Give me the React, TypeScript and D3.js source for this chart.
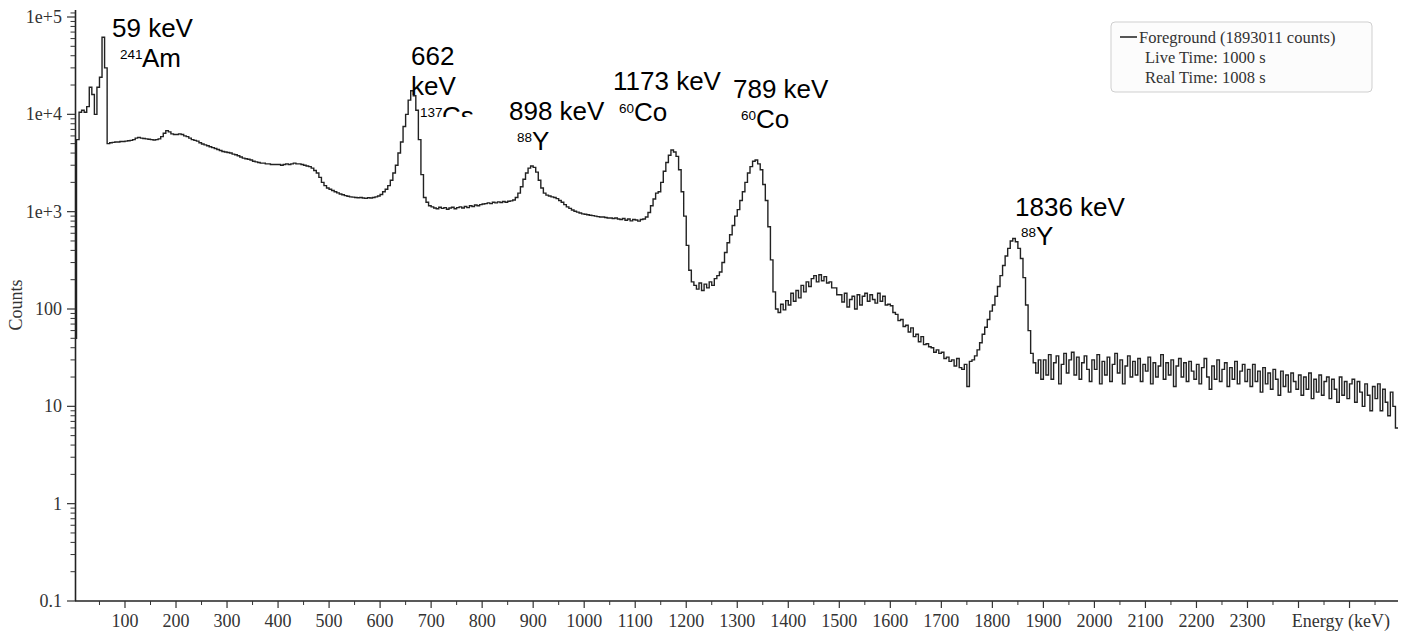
import React from 'react';
import * as d3 from 'd3';

// Spectrum: counts per 5 keV bin, bin i starts at i*5 keV
const binWidthKeV = 5;
const counts: number[] = [
  // 0-100
  50, 5500, 10500, 11000, 10500, 12000, 19000, 16000, 10000, 19000, 24000, 62000, 30000, 5000, 5100, 5150, 5200, 5200, 5250, 5250,
  // 100-200
  5300, 5350, 5400, 5500, 5700, 5800, 5700, 5650, 5600, 5550, 5500, 5450, 5500, 5600, 5900, 6400, 6800, 6600, 6300, 6200,
  // 200-300
  6200, 6300, 6200, 6000, 5900, 5700, 5500, 5400, 5300, 5100, 4950, 4850, 4750, 4650, 4550, 4450, 4350, 4250, 4150, 4100,
  // 300-400
  4050, 4000, 3900, 3850, 3750, 3650, 3550, 3500, 3450, 3400, 3300, 3250, 3200, 3150, 3150, 3100, 3100, 3050, 3050, 3050,
  // 400-500
  3050, 3000, 3050, 3100, 3050, 3100, 3150, 3100, 3100, 3050, 3000, 2950, 2900, 2800, 2650, 2500, 2250, 2000, 1850, 1750,
  // 500-600
  1700, 1650, 1600, 1560, 1520, 1490, 1460, 1440, 1420, 1410, 1400, 1390, 1400, 1380, 1370, 1390, 1380, 1400, 1420, 1450,
  // 600-700
  1500, 1600, 1700, 1850, 2100, 2500, 3000, 4000, 5200, 7500, 10000, 14000, 17500, 15500, 11000, 5500, 2400, 1400, 1250, 1150,
  // 700-800
  1120, 1090, 1070, 1110, 1080, 1100, 1060, 1090, 1110, 1070, 1100, 1120, 1090, 1130, 1100, 1150, 1130, 1170, 1150, 1180,
  // 800-900
  1200, 1210, 1230, 1210, 1250, 1230, 1260, 1240, 1270, 1250, 1280, 1290, 1320, 1400, 1550, 1800, 2150, 2500, 2800, 2950,
  // 900-1000
  2850, 2550, 2100, 1750, 1550, 1480, 1450, 1420, 1400, 1360, 1300, 1250, 1180, 1120, 1080, 1040, 1010, 990, 970, 950,
  // 1000-1100
  940, 930, 920, 910, 900, 890, 880, 880, 870, 860, 860, 850, 860, 840, 830, 850, 815, 840, 805, 830,
  // 1100-1200
  820, 800, 830, 840, 880, 980, 1150, 1350, 1550, 1600, 2000, 2600, 3200, 3800, 4300, 4100, 3700, 2700, 1600, 900,
  // 1200-1300
  450, 250, 190, 175, 160, 185, 155, 180, 165, 190, 175, 205, 220, 240, 300, 380, 480, 580, 720, 900,
  // 1300-1400
  1050, 1300, 1600, 2000, 2500, 2900, 3300, 3400, 3100, 2700, 1900, 1300, 700, 320, 150, 100, 92, 112, 98, 122,
  // 1400-1500
  110, 145, 120, 155, 130, 175, 150, 190, 170, 205, 220, 190, 225, 195, 215, 185, 190, 165, 165, 140,
  // 1500-1600
  140, 118, 145, 105, 125, 135, 100, 140, 110, 135, 145, 120, 140, 125, 115, 145, 120, 135, 110, 112,
  // 1600-1700
  108, 92, 88, 76, 78, 66, 68, 58, 64, 52, 55, 46, 52, 43, 44, 41, 40, 36, 38, 35,
  // 1700-1800
  36, 31, 32, 29, 30, 26, 31, 25, 24, 27, 16, 29, 30, 33, 38, 45, 55, 65, 78, 95,
  // 1800-1900
  110, 135, 170, 220, 280, 350, 420, 500, 530, 490, 420, 330, 210, 110, 60, 35, 28, 22, 30, 19,
  // 1900-2000
  30, 21, 34, 19, 28, 33, 17, 27, 35, 22, 30, 36, 21, 32, 19, 28, 33, 24, 18, 30,
  // 2000-2100
  24, 34, 17, 29, 21, 32, 18, 27, 35, 22, 30, 17, 26, 33, 20, 29, 21, 31, 18, 27,
  // 2100-2200
  23, 32, 17, 28, 20, 26, 34, 19, 28, 21, 30, 16, 26, 31, 20, 28, 18, 29, 23, 19,
  // 2200-2300
  27, 17, 25, 31, 20, 15, 26, 19, 30, 18, 24, 28, 16, 25, 19, 29, 17, 23, 27, 18,
  // 2300-2400
  24, 16, 27, 18, 23, 14, 25, 17, 22, 15, 24, 19, 13, 23, 16, 21, 14, 22, 18, 15,
  // 2400-2500
  21, 13, 20, 15, 22, 12, 19, 14, 21, 13, 18, 20, 12, 19, 15, 11, 20, 13, 18, 12,
  // 2500-2595
  17, 19, 11, 18, 14, 10, 17, 13, 9, 16, 12, 17, 9, 15, 11, 8, 14, 10, 6,
];

const yTickValues = [1e5, 1e4, 1e3, 100, 10, 1, 0.1];
const yTickLabels = ['1e+5', '1e+4', '1e+3', '100', '10', '1', '0.1'];
const xMajorTicks = d3.range(100, 2600, 100);
const xMinorTicks = d3.range(50, 2600, 100);
const xLabelMax = 2300;

const peakLines1 = ['59 keV', '662', '898 keV', '1173 keV', '789 keV', '1836 keV'];
const peakIsotopeMass = ['241', '137', '88', '60', '60', '88'];
const peakIsotopeSymbol = ['Am', 'Cs', 'Y', 'Co', 'Co', 'Y'];

const legendTitle = 'Foreground (1893011 counts)';
const legendLines = ['Live Time: 1000 s', 'Real Time: 1008 s'];

const W = 1414;
const H = 633;

export default function App() {
  const x = d3.scaleLinear().domain([3, 2595]).range([75.5, 1398]);
  const y = d3.scaleLog().domain([0.1, 118000]).range([601, 10]);

  const pts: [number, number][] = counts.map((c, i) => [i * binWidthKeV, c]);
  pts.push([counts.length * binWidthKeV, counts[counts.length - 1]]);
  const line = d3
    .line<[number, number]>()
    .x((d) => x(d[0]))
    .y((d) => y(Math.max(d[1], 0.05)))
    .curve(d3.curveStepAfter);

  const minorY: number[] = [];
  for (let e = -1; e <= 4; e++) {
    for (let m = 2; m <= 9; m++) minorY.push(m * Math.pow(10, e));
  }
  minorY.push(1.1e5);

  const serif = '"Liberation Serif", "Times New Roman", serif';
  const sans = '"Liberation Sans", Arial, sans-serif';
  const tickColor = '#333';

  // annotation layout (first line pos, second line pos)
  const ann = [
    { x: 112, y: 37, x2: 120, y2: 67 },
    { x: 411, y: 65, x2: 420, y2: 125 },
    { x: 509, y: 120, x2: 517, y2: 150 },
    { x: 613, y: 90, x2: 619, y2: 121 },
    { x: 733, y: 98, x2: 741, y2: 128 },
    { x: 1015, y: 216, x2: 1021, y2: 245 },
  ];

  return (
    <svg
      width={W}
      height={H}
      style={{ position: 'absolute', left: 0, top: 0, background: '#fff' }}
    >
      <defs>
        <clipPath id="plotClip">
          <rect x={76} y={0} width={1330} height={601} />
        </clipPath>
        <clipPath id="csClip">
          <rect x={380} y={30} width={120} height={87} />
        </clipPath>
      </defs>

      {/* spectrum */}
      <path
        d={line(pts) || ''}
        fill="none"
        stroke="#222"
        strokeWidth={1.4}
        clipPath="url(#plotClip)"
      />

      {/* y axis */}
      <line x1={75.5} x2={75.5} y1={10} y2={601} stroke="#222" strokeWidth={1.6} />
      {minorY.filter((v) => v <= 118000).map((v, i) => (
        <line key={'my' + i} x1={70.5} x2={75.5} y1={y(v)} y2={y(v)} stroke={tickColor} strokeWidth={1} />
      ))}
      {yTickValues.map((v, i) => (
        <g key={'yt' + i}>
          <line x1={67} x2={75.5} y1={y(v)} y2={y(v)} stroke={tickColor} strokeWidth={1.2} />
          <text
            x={62}
            y={y(v)}
            dy="0.33em"
            textAnchor="end"
            fontFamily={serif}
            fontSize={18}
            fill="#333"
          >
            {yTickLabels[i]}
          </text>
        </g>
      ))}
      <text
        transform={`translate(22,${305}) rotate(-90)`}
        textAnchor="middle"
        fontFamily={serif}
        fontSize={18}
        fill="#333"
      >
        Counts
      </text>

      {/* x axis */}
      <line x1={75} x2={1398} y1={601} y2={601} stroke="#222" strokeWidth={1.4} />
      {xMinorTicks.map((v) => (
        <line key={'mx' + v} x1={x(v)} x2={x(v)} y1={601} y2={605} stroke={tickColor} strokeWidth={1} />
      ))}
      {xMajorTicks.map((v) => (
        <g key={'xt' + v}>
          <line x1={x(v)} x2={x(v)} y1={601} y2={608} stroke={tickColor} strokeWidth={1.2} />
          {v <= xLabelMax && (
            <text x={x(v)} y={627} textAnchor="middle" fontFamily={serif} fontSize={18} fill="#333">
              {v}
            </text>
          )}
        </g>
      ))}
      <text x={1390} y={627} textAnchor="end" fontFamily={serif} fontSize={18} fill="#333">
        Energy (keV)
      </text>

      {/* legend */}
      <rect x={1111} y={22} width={261} height={70} rx={4} fill="#fcfcfc" stroke="#cfcfcf" strokeWidth={1} />
      <line x1={1120} x2={1137} y1={37} y2={37} stroke="#555" strokeWidth={2} />
      <text x={1139} y={43} fontFamily={serif} fontSize={16.5} fill="#333">
        {legendTitle}
      </text>
      {legendLines.map((t, i) => (
        <text key={'lg' + i} x={1145} y={63 + i * 20} fontFamily={serif} fontSize={16.5} fill="#333">
          {t}
        </text>
      ))}

      {/* peak annotations */}
      {ann.map((a, i) => {
        const g = (
          <g key={'ann' + i} fontFamily={sans} fill="#000">
            <text x={a.x} y={a.y} fontSize={26}>
              {peakLines1[i]}
            </text>
            {i === 1 && (
              <text x={a.x} y={a.y + 30} fontSize={26}>
                keV
              </text>
            )}
            <text x={a.x2} y={a.y2 - 8.5} fontSize={13.5}>
              {peakIsotopeMass[i]}
            </text>
            <text x={a.x2 + (peakIsotopeMass[i].length === 3 ? 22 : 15)} y={a.y2} fontSize={26}>
              {peakIsotopeSymbol[i]}
            </text>
          </g>
        );
        return i === 1 ? (
          <g key={'annc' + i} clipPath="url(#csClip)">
            {g}
          </g>
        ) : (
          g
        );
      })}
    </svg>
  );
}
